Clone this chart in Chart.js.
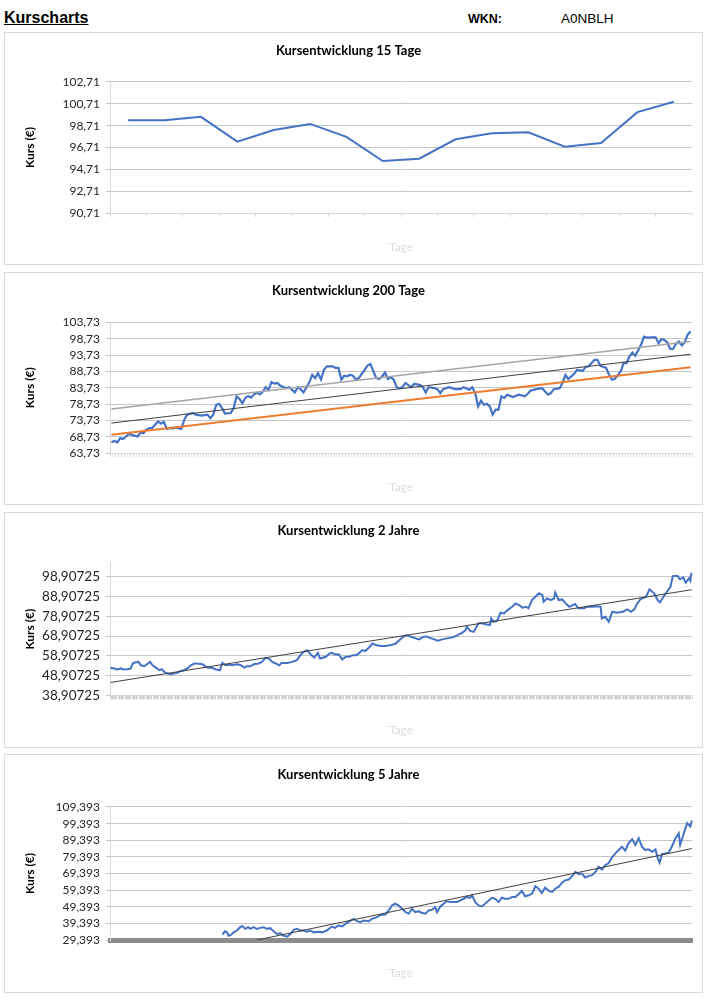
<!DOCTYPE html>
<html lang="de">
<head>
<meta charset="utf-8">
<title>Kurscharts</title>
<script src="https://cdn.jsdelivr.net/npm/chart.js@4.4.1/dist/chart.umd.min.js"></script>
<style>
  body { margin: 0; background: #fff; width: 706px; height: 998px; position: relative; font-family: 'Liberation Sans', Arial, sans-serif; color: #000; }
  .kopf { position: absolute; top: 9px; left: 4px; font-size: 16px; font-weight: bold; text-decoration: underline; line-height: 18px; }
  .wkn { position: absolute; top: 12px; left: 468px; font-size: 12.5px; font-weight: bold; }
  .wknwert { position: absolute; top: 11px; left: 561px; font-size: 13.5px; }
  .box { position: absolute; left: 4px; width: 699px; border: 1px solid #d9d9d9; box-sizing: border-box; }
  .box canvas { display: block; }
</style>
</head>
<body>
<div class="kopf">Kurscharts</div>
<div class="wkn">WKN:</div>
<div class="wknwert">A0NBLH</div>

<div class="box"><canvas id="c15"></canvas></div>
<div class="box"><canvas id="c200"></canvas></div>
<div class="box"><canvas id="c2j"></canvas></div>
<div class="box"><canvas id="c5j"></canvas></div>

<script>
// 15 Tage
const tage15 = [1, 2, 3, 4, 5, 6, 7, 8, 9, 10, 11, 12, 13, 14, 15, 16];
const kurs15 = [99.21, 99.21, 99.52, 97.25, 98.32, 98.87, 97.68, 95.47, 95.68, 97.46, 98.01, 98.11, 96.79, 97.12, 99.95, 100.90];
const ticks15 = [90.71, 92.71, 94.71, 96.71, 98.71, 100.71, 102.71];

// 200 Tage (Tag-Index, Kurs)
const tag200 = [0, 1, 2, 3, 4, 5, 6, 7, 9, 10, 11, 12, 13, 14, 16, 17, 18, 19, 20, 21, 22, 24, 25, 26, 28, 29, 31, 33, 34, 35,
  36, 37, 38, 39, 41, 42, 43, 44, 45, 46, 47, 48, 49, 50, 51, 52, 53, 54, 55, 56, 57, 58, 60, 61, 62, 63, 64, 65, 66, 67,
  68, 69, 70, 71, 72, 73, 74, 76, 77, 78, 79, 80, 81, 82, 83, 84, 85, 86, 87, 88, 89, 91, 92, 93, 94, 95, 96, 97, 98, 99,
  100, 101, 103, 104, 106, 107, 108, 109, 111, 112, 113, 114, 116, 118, 120, 121, 123, 124, 125, 126, 127, 128, 129, 130, 131, 132, 133, 134, 135, 136,
  138, 139, 140, 142, 143, 144, 146, 148, 150, 151, 152, 154, 155, 156, 157, 159, 160, 162, 163, 164, 166, 167, 168, 170, 171, 172, 173, 175, 176, 177,
  178, 179, 180, 182, 183, 184, 186, 187, 188, 189, 190, 191, 192, 193, 194, 195, 196, 197, 198, 199];
const kurs200 = [67.0, 67.4, 67.0, 68.3, 68.0, 68.8, 69.6, 69.3, 68.8, 70.0, 69.8, 70.9, 71.4, 71.4, 73.4, 72.7, 73.3, 71.1, 71.4, 71.2, 71.6, 71.1, 73.9, 75.5, 76.0, 75.5, 75.2, 75.5, 74.4, 75.5,
  78.5, 78.8, 77.5, 75.8, 76.0, 77.5, 81.1, 80.3, 79.0, 80.6, 81.2, 80.7, 81.7, 82.2, 81.7, 82.5, 83.9, 83.1, 85.5, 85.0, 85.2, 84.4, 83.6, 83.9, 83.1, 82.3, 83.9, 83.3, 82.3, 83.9,
  85.4, 87.7, 86.7, 88.2, 86.2, 89.2, 90.3, 90.3, 89.8, 89.8, 86.2, 87.4, 87.2, 87.7, 87.4, 86.2, 86.7, 88.0, 89.2, 90.5, 91.0, 86.7, 86.4, 87.2, 88.4, 86.4, 87.0, 86.2, 83.9, 83.6,
  83.9, 85.2, 83.9, 84.9, 84.6, 83.9, 82.3, 83.9, 83.6, 83.3, 82.1, 83.3, 83.9, 83.3, 83.3, 83.9, 83.1, 83.9, 82.1, 78.0, 79.8, 78.5, 78.8, 78.0, 75.5, 77.0, 77.0, 81.1, 80.6, 81.6,
  80.9, 81.3, 81.6, 81.1, 81.8, 82.8, 83.3, 83.6, 81.6, 82.1, 83.3, 83.6, 85.2, 87.7, 86.4, 88.0, 89.2, 88.9, 90.1, 90.3, 92.3, 92.3, 90.5, 89.8, 87.7, 86.2, 86.5, 88.7, 91.3, 91.3,
  93.3, 94.5, 93.5, 96.9, 99.4, 99.1, 99.2, 99.2, 97.4, 98.6, 98.4, 97.6, 95.6, 95.6, 97.2, 97.9, 96.7, 97.6, 100.0, 101.0];
const trendTage200 = [0, 199];
const trendHell200 = [77.2, 97.9];
const trendDunkel200 = [72.9, 94.0];
const trendOrange200 = [69.3, 90.0];
const ticks200 = [63.73, 68.73, 73.73, 78.73, 83.73, 88.73, 93.73, 98.73, 103.73];

// 2 Jahre
const tag2J = [0, 3, 6, 9, 11, 14, 17, 19, 21, 24, 26, 29, 31, 34, 36, 39, 42, 44, 46, 49, 52, 54, 57, 60, 63, 66, 69, 72, 74, 79,
  82, 84, 87, 90, 94, 96, 99, 102, 104, 109, 112, 115, 117, 120, 123, 127, 130, 133, 136, 139, 142, 145, 147, 152, 156, 160, 163, 166, 169, 172,
  175, 178, 180, 185, 188, 190, 193, 196, 199, 202, 205, 208, 211, 213, 216, 219, 222, 225, 228, 232, 236, 241, 245, 248,
  252, 255, 258, 262, 265, 268, 271, 273, 278, 281, 285, 289, 294, 298, 302, 305, 306, 309, 312, 316, 319, 323, 326, 327, 329, 332,
  335, 338, 341, 345, 348, 351, 354, 357, 359, 362, 365, 368, 371, 372, 375, 378, 381, 382, 385, 388, 391, 394, 397, 399, 402, 407,
  409, 414, 418, 421, 422, 425, 428, 431, 435, 440, 444, 447, 450, 452, 455, 460, 463, 467, 470, 472, 475, 478, 481, 483, 487, 489,
  492, 494, 497, 498, 499];
const kurs2J = [52.8, 52.5, 52.0, 52.5, 52.0, 52.1, 52.3, 55.0, 55.5, 55.8, 54.1, 53.6, 54.5, 55.8, 54.1, 52.9, 51.6, 52.1, 50.8, 49.9, 49.6, 49.9, 50.2, 51.1, 51.6, 52.5, 54.1, 55.0, 55.0, 54.6,
  53.3, 52.9, 52.8, 52.1, 51.6, 55.3, 54.1, 54.5, 54.1, 54.6, 54.1, 52.9, 53.6, 53.6, 54.6, 55.0, 55.8, 57.9, 57.5, 55.8, 55.0, 54.1, 55.3, 55.3, 55.8, 56.7, 59.2, 60.9, 61.7, 59.5,
  58.0, 60.4, 57.5, 58.4, 60.0, 60.4, 59.5, 59.7, 57.0, 58.4, 58.4, 59.2, 59.2, 60.0, 61.7, 61.4, 63.1, 65.1, 64.3, 63.9, 63.8, 64.3, 65.1, 66.8,
  68.8, 69.3, 68.5, 67.7, 67.2, 68.2, 68.8, 68.2, 67.2, 66.5, 67.2, 67.7, 68.2, 69.3, 70.5, 71.9, 73.6, 71.5, 71.0, 75.3, 75.3, 74.7, 74.5, 77.8, 76.1, 76.6,
  80.7, 80.3, 82.0, 83.7, 85.4, 84.5, 83.2, 83.7, 82.9, 87.1, 88.8, 90.5, 89.6, 86.2, 87.9, 87.1, 87.9, 90.9, 87.1, 87.4, 85.4, 83.7, 84.5, 85.1, 82.9, 82.9,
  83.7, 83.7, 84.0, 83.7, 77.8, 78.6, 76.1, 81.2, 80.7, 81.2, 82.4, 81.2, 82.4, 84.9, 87.4, 88.8, 92.5, 90.5, 87.1, 85.9, 88.8, 91.3, 93.8, 99.2, 99.4, 97.6,
  98.6, 95.9, 98.1, 96.9, 100.9];
const trendTage2J = [0, 499];
const trend2J = [45.4, 92.3];
const ticks2J = [38.90725, 48.90725, 58.90725, 68.90725, 78.90725, 88.90725, 98.90725];

// 5 Jahre
const tag5J = [241, 246, 251, 254, 260, 265, 272, 279, 284, 290, 296, 301, 308, 315, 322, 329, 337, 344, 351, 358, 365, 372, 380, 387, 394, 401, 408, 415, 422, 430,
  437, 448, 455, 465, 476, 483, 490, 498, 505, 516, 523, 530, 537, 544, 555, 562, 573, 580, 591, 598, 605, 612, 619, 627,
  634, 641, 648, 655, 662, 669, 677, 684, 691, 698, 702, 709, 716, 723, 730, 737, 745, 752, 759, 766, 773, 777, 784, 791, 798, 805,
  813, 820, 827, 834, 841, 848, 856, 863, 870, 877, 884, 891, 899, 906, 913, 920, 927, 934, 942, 949, 956, 963, 970, 977, 985, 992,
  999, 1006, 1013, 1020, 1027, 1035, 1042, 1049, 1056, 1063, 1070, 1078, 1085, 1092, 1099, 1106, 1113, 1121, 1128, 1135, 1142, 1149, 1156, 1164,
  1171, 1176, 1180, 1185, 1192, 1199, 1206, 1214, 1221, 1224, 1232, 1239, 1246, 1249];
const kurs5J = [32.6, 34.6, 34.0, 32.0, 32.6, 34.0, 35.1, 37.1, 37.7, 36.1, 37.1, 36.1, 37.1, 36.1, 36.7, 37.1, 36.1, 36.5, 34.6, 33.0, 33.4, 32.0, 31.4, 33.0, 35.5, 36.1, 35.1, 35.1, 34.4, 35.1,
  34.0, 34.4, 34.0, 35.1, 37.5, 36.7, 38.1, 37.5, 39.1, 41.1, 42.1, 40.7, 40.1, 41.1, 40.7, 42.1, 43.1, 44.5, 44.7, 47.2, 50.2, 51.2, 50.2, 48.2,
  46.2, 45.2, 48.2, 46.2, 46.6, 45.8, 45.2, 47.2, 47.6, 49.2, 46.2, 49.6, 51.2, 52.8, 52.2, 52.2, 52.2, 53.2, 54.2, 55.3, 54.8, 56.3, 52.2, 50.2, 49.6, 51.2,
  53.2, 54.8, 54.2, 52.2, 54.8, 54.2, 54.2, 55.3, 55.3, 56.9, 58.9, 55.7, 56.3, 57.3, 61.7, 60.3, 57.7, 60.9, 58.9, 58.3, 60.3, 61.3, 63.7, 65.3, 65.8, 67.8,
  70.4, 69.0, 69.4, 67.0, 67.8, 68.4, 70.4, 73.4, 71.8, 74.4, 75.5, 79.1, 81.5, 83.5, 85.5, 83.1, 87.6, 90.0, 86.6, 90.6, 85.5, 83.5, 83.9, 82.5,
  83.9, 78.5, 75.9, 81.1, 81.5, 81.9, 85.5, 90.6, 93.6, 86.6, 93.6, 99.7, 97.7, 101.3];
const trendTage5J = [241, 1249];
const trend5J = [25.0, 84.4];
const ticks5J = [29.393, 39.393, 49.393, 59.393, 69.393, 79.393, 89.393, 99.393, 109.393];

Chart.defaults.font.family = "Lato, 'Open Sans', sans-serif";
Chart.defaults.color = '#262626';
Chart.defaults.animation = false;
Chart.defaults.plugins.legend.display = false;
Chart.defaults.plugins.tooltip.enabled = false;
Chart.defaults.elements.point.radius = 0;
Chart.defaults.elements.line.tension = 0;

const blau = '#4472c4';

function punkte(tage, werte) {
  return tage.map((t, i) => ({ x: t, y: werte[i] }));
}

function tageBis(n) {
  return Array.from({ length: n }, (_, i) => i);
}

// g: Lage der Box und des Plotbereichs auf der Seite
function kursChart(id, g, titel, labels, datasets, y, x) {
  const canvas = document.getElementById(id);
  const box = canvas.parentElement;
  box.style.top = g.top + 'px';
  box.style.height = g.height + 'px';
  const innen = g.top + 1;
  const hoehe = g.height - 2;
  canvas.width = 697;
  canvas.height = hoehe;

  const tfs = 13, xfs = 12;
  const oben = g.plotTop - innen;
  const unten = g.plotBot - innen;
  const tPadTop = g.titleY - innen - tfs * 0.6;
  const tPadBot = oben - tPadTop - tfs * 1.2;
  const tl = x.tickLength;
  const xPadTop = g.tageY - innen - unten - tl - xfs * 0.6;
  const xPadBot = hoehe - unten - tl - xPadTop - xfs * 1.2;

  new Chart(canvas, {
    type: 'line',
    data: { labels: labels, datasets: datasets },
    options: {
      responsive: false,
      layout: { padding: { left: 0, right: 10, top: 0, bottom: 0 } },
      plugins: {
        title: {
          display: true,
          text: titel,
          color: '#000',
          font: { size: tfs, weight: 'bold' },
          padding: { top: tPadTop, bottom: tPadBot }
        }
      },
      scales: {
        x: {
          offset: true,
          ticks: { display: false, autoSkip: false },
          grid: {
            offset: true,
            drawOnChartArea: false,
            drawTicks: tl > 0,
            tickLength: tl,
            color: x.tickColor
          },
          border: { color: x.borderColor, width: x.borderWidth },
          title: {
            display: true,
            text: 'Tage',
            color: '#dedede',
            font: { size: xfs },
            padding: { top: xPadTop, bottom: xPadBot }
          }
        },
        y: {
          min: y.min,
          max: y.max,
          afterBuildTicks: s => { s.ticks = y.ticks.map(v => ({ value: v })); },
          afterFit: s => { s.width = 105; },
          ticks: {
            autoSkip: false,
            padding: 6,
            font: { size: y.fontSize },
            callback: v => String(v).replace('.', ',')
          },
          grid: { color: '#c6c6c6', tickLength: 4 },
          border: { color: '#d9d9d9' },
          title: {
            display: true,
            text: 'Kurs (€)',
            color: '#000',
            font: { size: 12, weight: 'bold' },
            padding: { top: 18, bottom: 0 }
          }
        }
      }
    }
  });
}

kursChart('c15', { top: 32, height: 233, plotTop: 82, plotBot: 213, titleY: 50.7, tageY: 246.7 },
  'Kursentwicklung 15 Tage', tage15,
  [{ data: kurs15, borderColor: blau, borderWidth: 2 }],
  { min: 90.71, max: 102.71, ticks: ticks15, fontSize: 12 },
  { tickLength: 4, tickColor: '#d9d9d9', borderColor: '#d9d9d9', borderWidth: 1 });

kursChart('c200', { top: 272, height: 233, plotTop: 322.5, plotBot: 453, titleY: 290.7, tageY: 487 },
  'Kursentwicklung 200 Tage', tageBis(200),
  [
    { data: punkte(trendTage200, trendHell200), borderColor: '#a5a5a5', borderWidth: 1.5 },
    { data: punkte(trendTage200, trendDunkel200), borderColor: '#404040', borderWidth: 1 },
    { data: punkte(trendTage200, trendOrange200), borderColor: '#ed7d31', borderWidth: 2 },
    { data: punkte(tag200, kurs200), borderColor: blau, borderWidth: 2.2 }
  ],
  { min: 63.73, max: 103.73, ticks: ticks200, fontSize: 12 },
  { tickLength: 4, tickColor: '#d9d9d9', borderColor: '#d9d9d9', borderWidth: 1 });

kursChart('c2j', { top: 512, height: 236, plotTop: 563, plotBot: 695.3, titleY: 530.7, tageY: 730 },
  'Kursentwicklung 2 Jahre', tageBis(500),
  [
    { data: punkte(trendTage2J, trend2J), borderColor: '#404040', borderWidth: 1 },
    { data: punkte(tag2J, kurs2J), borderColor: blau, borderWidth: 2 }
  ],
  { min: 38.90725, max: 105.84, ticks: ticks2J, fontSize: 13.5 },
  { tickLength: 4, tickColor: '#d4d4d4', borderColor: '#d9d9d9', borderWidth: 1 });

kursChart('c5j', { top: 754, height: 239, plotTop: 807, plotBot: 940, titleY: 775, tageY: 973 },
  'Kursentwicklung 5 Jahre', tageBis(1250),
  [
    { data: punkte(trendTage5J, trend5J), borderColor: '#404040', borderWidth: 1, clip: 0 },
    { data: punkte(tag5J, kurs5J), borderColor: blau, borderWidth: 2 }
  ],
  { min: 29.393, max: 109.393, ticks: ticks5J, fontSize: 12 },
  { tickLength: 0, tickColor: '#8c8c8c', borderColor: '#8c8c8c', borderWidth: 5 });
</script>
</body>
</html>
